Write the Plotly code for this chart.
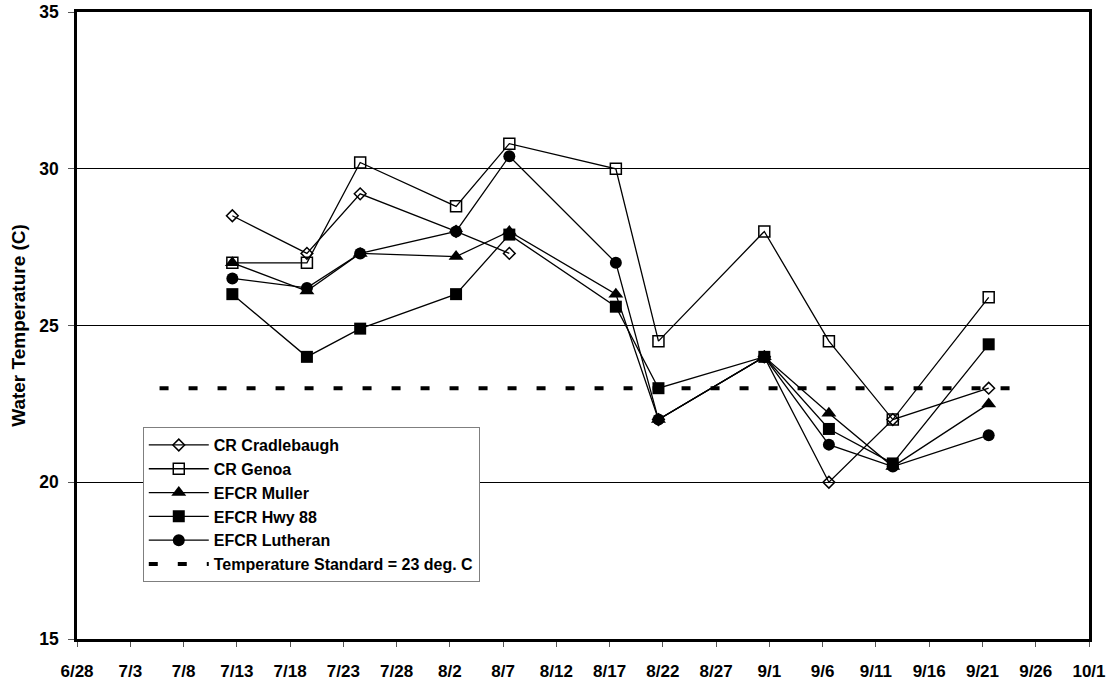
import plotly.graph_objects as go

# ---- data ----
dates = ["2003-07-12 14:00", "2003-07-19 14:00", "2003-07-24 14:00", "2003-08-02 14:00",
         "2003-08-07 14:00", "2003-08-17 14:00", "2003-08-21 14:00", "2003-08-31 12:30",
         "2003-09-06 14:00", "2003-09-12 14:00", "2003-09-21 14:00"]

cr_cradlebaugh = [28.5, 27.3, 29.2, 28.0, 27.3, None, 22.0, 24.0, 20.0, 22.0, 23.0]
cr_genoa       = [27.0, 27.0, 30.2, 28.8, 30.8, 30.0, 24.5, 28.0, 24.5, 22.0, 25.9]
efcr_muller    = [27.0, 26.1, 27.3, 27.2, 28.0, 26.0, 22.0, 24.0, 22.2, 20.5, 22.5]
efcr_hwy88     = [26.0, 24.0, 24.9, 26.0, 27.9, 25.6, 23.0, 24.0, 21.7, 20.6, 24.4]
efcr_lutheran  = [26.5, 26.2, 27.3, 28.0, 30.4, 27.0, 22.0, 24.0, 21.2, 20.5, 21.5]

standard_dates = ["2003-07-05 18:00", "2003-09-24 00:00"]
standard_values = [23, 23]

series_names = ["CR Cradlebaugh", "CR Genoa", "EFCR Muller", "EFCR Hwy 88", "EFCR Lutheran"]
series_values = [cr_cradlebaugh, cr_genoa, efcr_muller, efcr_hwy88, efcr_lutheran]
standard_name = "Temperature Standard = 23 deg. C"

y_title = "Water Temperature (C)"

# ---- styles ----
FONT = "Liberation Sans, Arial, sans-serif"
markers = [
    dict(symbol="diamond-open", size=9, color="black", line=dict(width=1.5, color="black")),
    dict(symbol="square-open", size=11, color="black", line=dict(width=1.5, color="black")),
    dict(symbol="triangle-up", size=13, color="black", line=dict(width=0)),
    dict(symbol="square", size=12, color="black", line=dict(width=0)),
    dict(symbol="circle", size=12, color="black", line=dict(width=0)),
]

fig = go.Figure()

fig.add_trace(go.Scatter(
    x=standard_dates, y=standard_values, name=standard_name, mode="lines",
    line=dict(color="black", width=4, dash="9px,20px"), legendrank=10,
))

for i, (nm, vals) in enumerate(zip(series_names, series_values)):
    fig.add_trace(go.Scatter(
        x=dates, y=vals, name=nm, mode="lines+markers",
        line=dict(color="black", width=1.3),
        marker=markers[i], connectgaps=False, legendrank=i + 1,
    ))

fig.update_layout(
    width=1112, height=682,
    margin=dict(l=77, r=23, t=12, b=43, autoexpand=False),
    paper_bgcolor="white", plot_bgcolor="white",
    font=dict(family=FONT, color="black"),
    showlegend=True,
    legend=dict(
        x=0.065, y=0.338, xanchor="left", yanchor="top",
        bgcolor="white", bordercolor="#7f7f7f", borderwidth=1,
        font=dict(family=FONT, size=16, weight="bold", color="black"),
        itemwidth=60, tracegroupgap=0,
    ),
    xaxis=dict(
        type="date",
        range=["2003-06-28", "2003-10-01"],
        tick0="2003-06-28", dtick=5 * 86400000,
        tickformat="%-m/%-d",
        ticks="outside", ticklen=5, tickcolor="#555", tickwidth=1,
        ticklabelstandoff=10,
        tickfont=dict(family=FONT, size=17, weight="bold", color="black"),
        showgrid=False, zeroline=False,
        showline=True, linecolor="black", linewidth=2.5, mirror=True,
        automargin=False,
    ),
    yaxis=dict(
        range=[15, 35], dtick=5, tick0=15,
        ticks="outside", ticklen=6, tickcolor="#555", tickwidth=1,
        ticklabelstandoff=6,
        tickfont=dict(family=FONT, size=17.5, weight="bold", color="black"),
        showgrid=True, gridcolor="black", gridwidth=1,
        zeroline=False,
        showline=True, linecolor="black", linewidth=2.5, mirror=True,
        title=dict(text=y_title, standoff=9,
                   font=dict(family=FONT, size=19, weight="bold", color="black")),
        automargin=False,
    ),
)

fig.write_html("out.html", config={"displayModeBar": False},
               post_script="document.body.style.margin='0';")
